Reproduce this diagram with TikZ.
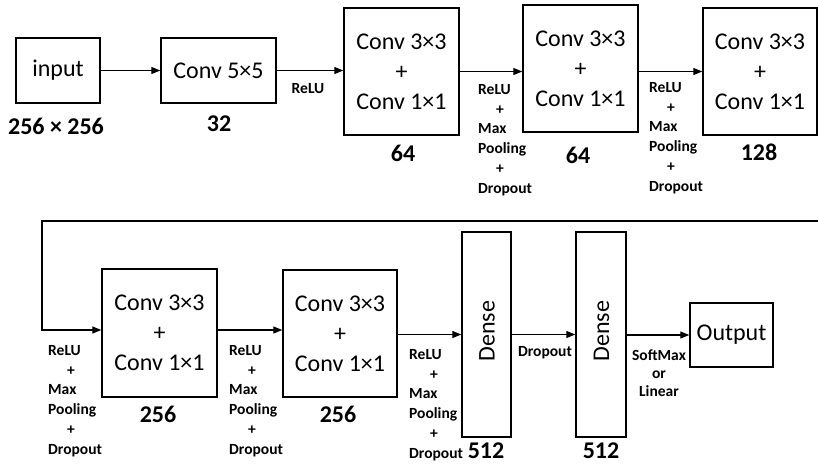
\documentclass[tikz,border=0pt]{standalone}
\usepackage{fontspec}
\setmainfont{Carlito}
\usetikzlibrary{arrows.meta}
\begin{document}
\begin{tikzpicture}[x=1pt,y=-1pt,
  box/.style={draw,line width=1.4pt,inner sep=0pt,font=\fontsize{24}{30}\selectfont,align=center},
  txt/.style={inner sep=0pt,font=\fontsize{24}{30}\selectfont},
  num/.style={inner sep=0pt,font=\fontsize{24}{28}\selectfont\bfseries},
  lab/.style={inner sep=0pt,font=\fontsize{15.5}{19.8}\selectfont\bfseries,align=left,anchor=north west},
  slab/.style={inner sep=0pt,font=\fontsize{15.5}{18}\selectfont\bfseries,align=center},
  arr/.style={line width=1.2pt,-{Triangle[length=9pt,width=7pt]}},
  wire/.style={line width=1.2pt}]
\useasboundingbox (0,0) rectangle (818,463);
% boxes
\node[box,minimum width=84pt,minimum height=65pt] (in) at (58,70.5) {input};
\node[box,minimum width=115pt,minimum height=65pt] (c5) at (218.5,70.5) {Conv 5×5};
\node[box,minimum width=115pt,minimum height=127pt] (b3) at (401.5,71.5) {Conv 3×3\\+\\Conv 1×1};
\node[box,minimum width=115pt,minimum height=127pt] (b4) at (580.5,68.5) {Conv 3×3\\+\\Conv 1×1};
\node[box,minimum width=114pt,minimum height=127pt] (b5) at (760,71.5) {Conv 3×3\\+\\Conv 1×1};
\node[box,minimum width=115pt,minimum height=128pt] (b6) at (159.5,333) {Conv 3×3\\+\\Conv 1×1};
\node[box,minimum width=114pt,minimum height=127pt] (b7) at (340,333.5) {Conv 3×3\\+\\Conv 1×1};
\node[box,minimum width=49pt,minimum height=205pt] (d1) at (486.5,334.5) {};
\node[box,minimum width=50pt,minimum height=205pt] (d2) at (601,334.5) {};
\node[box,minimum width=83pt,minimum height=64pt] (out) at (731.5,335) {Output};
\node[txt,rotate=90] (d1t) at (487,331) {Dense};
\node[txt,rotate=90] (d2t) at (601.5,331) {Dense};
% numbers
\node[num] (n0) at (56,126) {256 × 256};
\node[num] (n1) at (219,124) {32};
\node[num] (n2) at (403,153) {64};
\node[num] (n3) at (578,155) {64};
\node[num] (n4) at (759,152) {128};
\node[num] (n5) at (158,414) {256};
\node[num] (n6) at (338,414) {256};
\node[num] (n7) at (486,451) {512};
\node[num] (n8) at (601,451) {512};
% labels
\node[slab] (l0) at (308,89) {ReLU};
\node[lab] (l1) at (478,84) {ReLU\\\hspace*{18pt}+\\Max\\Pooling\\\hspace*{18pt}+\\Dropout};
\node[lab] (l2) at (649,82) {ReLU\\\hspace*{18pt}+\\Max\\Pooling\\\hspace*{18pt}+\\Dropout};
\node[lab] (l3) at (48,345) {ReLU\\\hspace*{19pt}+\\Max\\Pooling\\\hspace*{19pt}+\\Dropout};
\node[lab] (l4) at (229,345) {ReLU\\\hspace*{19pt}+\\Max\\Pooling\\\hspace*{19pt}+\\Dropout};
\node[lab] (l5) at (409,349) {ReLU\\\hspace*{21pt}+\\Max\\Pooling\\\hspace*{21pt}+\\Dropout};
\node[slab] (l6) at (545,353) {Dropout};
\node[slab,anchor=north] (l7) at (659,350) {SoftMax\\or\\Linear};
% connectors
\coordinate (wr) at (818,221);
\coordinate (wl) at (42,221);
\coordinate (wd) at (42,330);
\draw[arr] (in.east) -- (c5.west);
\draw[arr] (c5.east) -- (c5.east -| b3.west);
\draw[arr] (b3.east) -- (b3.east -| b4.west);
\draw[arr] (b5.west -| b4.east) -- (b5.west);
\draw[arr] (wr) -- (wl) -- (wd) -- (wd -| b6.west);
\draw[arr] (wd -| b6.east) -- (wd -| b7.west);
\draw[arr] (b7.east |- d1.west) -- (d1.west);
\draw[arr] (d1.east) -- (d2.west);
\draw[arr] (d2.east |- out.west) -- (out.west);
\end{tikzpicture}
\end{document}
